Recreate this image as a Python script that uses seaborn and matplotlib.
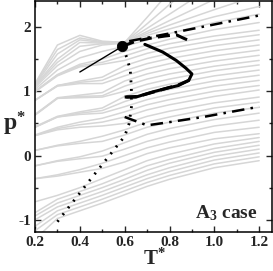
import matplotlib
matplotlib.use("Agg")
import matplotlib.pyplot as plt
from matplotlib.ticker import MultipleLocator
import seaborn as sns
import pandas as pd

# ── Data ──────────────────────────────────────────────────────
T_nodes = [0.2, 0.3, 0.4, 0.5, 0.6, 0.7, 0.8, 1.0, 1.2]

# grey background curves, p* at each T_nodes entry
grey_p = [
    [1.12, 1.72, 1.87, 1.78, 1.76, 2.15, 2.55, 3.30, 3.90],
    [1.11, 1.65, 1.83, 1.77, 1.76, 2.05, 2.35, 2.95, 3.45],
    [1.10, 1.58, 1.80, 1.76, 1.76, 1.98, 2.20, 2.65, 3.05],
    [1.09, 1.50, 1.76, 1.75, 1.76, 1.93, 2.10, 2.43, 2.73],
    [1.08, 1.45, 1.70, 1.74, 1.76, 1.90, 2.03, 2.27, 2.50],
    [1.06, 1.40, 1.62, 1.72, 1.75, 1.87, 1.97, 2.16, 2.32],
    [1.03, 1.33, 1.52, 1.62, 1.70, 1.80, 1.90, 2.07, 2.20],
    [1.00, 1.26, 1.42, 1.50, 1.62, 1.72, 1.81, 1.96, 2.07],
    [1.00, 1.25, 1.40, 1.45, 1.55, 1.66, 1.74, 1.86, 1.95],
    [0.99, 1.24, 1.38, 1.42, 1.48, 1.59, 1.67, 1.79, 1.88],
    [0.86, 1.09, 1.16, 1.22, 1.40, 1.51, 1.59, 1.71, 1.80],
    [0.86, 1.09, 1.14, 1.17, 1.32, 1.43, 1.51, 1.63, 1.72],
    [0.86, 1.08, 1.12, 1.12, 1.24, 1.35, 1.43, 1.55, 1.64],
    [0.64, 0.90, 0.94, 0.98, 1.16, 1.27, 1.35, 1.47, 1.56],
    [0.63, 0.89, 0.92, 0.93, 1.08, 1.19, 1.27, 1.39, 1.48],
    [0.63, 0.89, 0.90, 0.91, 1.00, 1.11, 1.19, 1.32, 1.41],
    [0.45, 0.61, 0.68, 0.74, 0.92, 1.03, 1.11, 1.24, 1.33],
    [0.44, 0.60, 0.66, 0.70, 0.84, 0.95, 1.03, 1.16, 1.25],
    [0.44, 0.60, 0.64, 0.66, 0.76, 0.87, 0.95, 1.08, 1.17],
    [0.32, 0.44, 0.52, 0.58, 0.68, 0.79, 0.87, 1.00, 1.09],
    [0.31, 0.42, 0.48, 0.52, 0.60, 0.71, 0.79, 0.92, 1.02],
    [0.31, 0.40, 0.44, 0.46, 0.50, 0.61, 0.69, 0.82, 0.91],
    [0.08, 0.16, 0.22, 0.30, 0.40, 0.52, 0.60, 0.74, 0.83],
    [0.08, 0.15, 0.19, 0.22, 0.32, 0.44, 0.52, 0.66, 0.75],
    [-0.16, -0.08, -0.02, 0.07, 0.20, 0.33, 0.42, 0.56, 0.66],
    [-0.16, -0.09, -0.05, -0.01, 0.10, 0.22, 0.31, 0.46, 0.55],
    [-0.36, -0.30, -0.22, -0.12, 0.00, 0.12, 0.21, 0.36, 0.44],
    [-0.36, -0.32, -0.26, -0.20, -0.10, 0.03, 0.12, 0.26, 0.34],
    [-0.72, -0.62, -0.50, -0.36, -0.22, -0.08, 0.02, 0.18, 0.28],
    [-0.89, -0.68, -0.56, -0.44, -0.30, -0.16, -0.06, 0.11, 0.22],
    [-0.94, -0.74, -0.62, -0.50, -0.37, -0.23, -0.12, 0.05, 0.16],
    [-1.00, -0.80, -0.68, -0.56, -0.43, -0.30, -0.19, -0.01, 0.10],
    [-1.10, -0.86, -0.74, -0.62, -0.49, -0.36, -0.25, -0.07, 0.04],
    [-1.17, -0.92, -0.80, -0.68, -0.55, -0.42, -0.31, -0.13, -0.02],
    [-1.30, -0.98, -0.86, -0.74, -0.61, -0.48, -0.37, -0.19, -0.08],
]

dotted_T = [0.30, 0.45, 0.60, 0.62, 0.63, 0.63, 0.625, 0.61, 0.59]
dotted_p = [-1.03, -0.36, 0.30, 0.50, 0.75, 1.05, 1.33, 1.52, 1.70]

thin_T = [0.40, 0.59]
thin_p = [1.30, 1.70]

solid_T = [0.69, 0.77, 0.83, 0.873, 0.90, 0.886, 0.84, 0.78, 0.725, 0.65, 0.61]
solid_p = [1.73, 1.61, 1.48, 1.36, 1.27, 1.17, 1.09, 1.04, 0.99, 0.91, 0.91]

dash_up_T = [0.59, 0.65, 0.72, 0.78, 0.83, 0.86, 0.90]
dash_up_p = [1.70, 1.78, 1.83, 1.86, 1.88, 1.83, 1.77]

dash_lo_T = [0.60, 0.66, 0.72, 0.78, 0.84, 0.90]
dash_lo_p = [0.91, 0.92, 0.98, 1.04, 1.10, 1.19]

dashdot_up_T = [0.62, 0.80, 1.00, 1.20]
dashdot_up_p = [1.78, 1.90, 2.04, 2.18]

dashdot_lo_T = [0.60, 0.70, 0.80, 0.95, 1.20]
dashdot_lo_p = [0.60, 0.47, 0.52, 0.60, 0.76]

crit_T = [0.59]
crit_p = [1.70]

# ── Style ─────────────────────────────────────────────────────
sns.set_style("ticks")
plt.rcParams["font.family"] = ["Liberation Serif", "DejaVu Serif"]
plt.rcParams["font.weight"] = "bold"
plt.rcParams["axes.unicode_minus"] = False
plt.rcParams["mathtext.fontset"] = "custom"
plt.rcParams["mathtext.rm"] = "Liberation Serif:bold"
plt.rcParams["mathtext.it"] = "Liberation Serif:bold"
plt.rcParams["mathtext.bf"] = "Liberation Serif:bold"

fig = plt.figure(figsize=(2.73, 2.71), dpi=100)
ax = fig.add_axes([35 / 273, 39 / 271, 236.5 / 273, 231 / 271])

# grey curves
rows = []
for i, curve in enumerate(grey_p):
    for t, p in zip(T_nodes, curve):
        rows.append({"T": t, "p": p, "curve": i})
grey_df = pd.DataFrame(rows)
sns.lineplot(data=grey_df, x="T", y="p", units="curve", estimator=None,
             sort=False, color="#d6d6d6", lw=1.1, ax=ax)

# black curves
sns.lineplot(x=dotted_T, y=dotted_p, estimator=None, sort=False, color="k",
             lw=2.0, linestyle=(0, (0.7, 2.4)), ax=ax)
sns.lineplot(x=thin_T, y=thin_p, estimator=None, sort=False, color="k",
             lw=1.0, ax=ax)
sns.lineplot(x=solid_T, y=solid_p, estimator=None, sort=False, color="k",
             lw=2.2, ax=ax)
sns.lineplot(x=dash_up_T, y=dash_up_p, estimator=None, sort=False, color="k",
             lw=2.2, linestyle=(0, (4, 2)), ax=ax)
sns.lineplot(x=dash_lo_T, y=dash_lo_p, estimator=None, sort=False, color="k",
             lw=2.2, linestyle=(0, (4, 2)), ax=ax)
sns.lineplot(x=dashdot_up_T, y=dashdot_up_p, estimator=None, sort=False,
             color="k", lw=1.8, linestyle=(0, (5, 2.5, 1, 2.5)), ax=ax)
sns.lineplot(x=dashdot_lo_T, y=dashdot_lo_p, estimator=None, sort=False,
             color="k", lw=1.8, linestyle=(0, (5, 2.5, 1, 2.5)), ax=ax)
sns.scatterplot(x=crit_T, y=crit_p, color="k", s=55, edgecolor="k",
                zorder=5, ax=ax)

# ── Axes ──────────────────────────────────────────────────────
ax.set_xlim(0.2, 1.255)
ax.set_ylim(-1.19, 2.405)
ax.xaxis.set_minor_locator(MultipleLocator(0.1))
ax.yaxis.set_minor_locator(MultipleLocator(0.5))
ax.set_xticks([0.2, 0.4, 0.6, 0.8, 1.0, 1.2])
ax.set_xticklabels(["0.2", "0.4", "0.6", "0.8", "1.0", "1.2"])
ax.set_yticks([-1, 0, 1, 2])
ax.set_yticklabels(["-1", "0", "1", "2"])
ax.tick_params(which="both", direction="in", top=True, right=True,
               width=1.0, labelsize=11, pad=3)
ax.tick_params(which="major", length=4)
ax.tick_params(which="minor", length=2.2)
for lab in ax.get_xticklabels() + ax.get_yticklabels():
    lab.set_fontweight("bold")
for s in ax.spines.values():
    s.set_linewidth(1.1)
    s.set_color("k")
ax.set_xlabel("")
ax.set_ylabel("")

fig.text(143 / 273, 6 / 271, r"T$^{*}$", fontsize=15, fontweight="bold",
         ha="left", va="baseline")
fig.text(3 / 273, 141 / 271, r"p$^{*}$", fontsize=17, fontweight="bold",
         ha="left", va="baseline")
fig.text(195 / 273, 53 / 271, r"A$_{3}$ case", fontsize=14,
         fontweight="bold", ha="left", va="baseline")

plt.savefig("out.png", dpi=100)
